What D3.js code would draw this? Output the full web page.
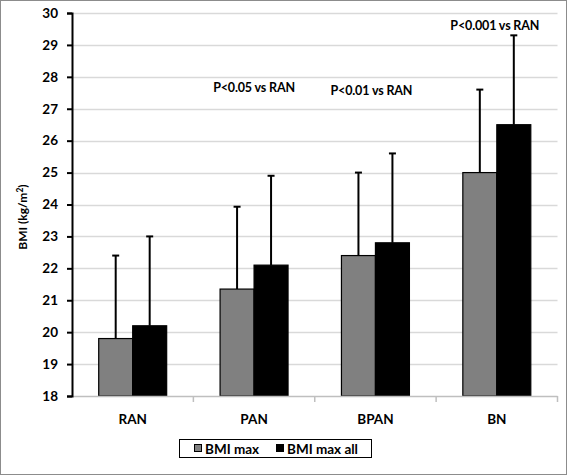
<!DOCTYPE html>
<html><head><meta charset="utf-8">
<script src="https://cdn.jsdelivr.net/npm/d3@7"></script>
<style>
html,body{margin:0;padding:0;background:#fff;}
svg{display:block;font-family:Lato,"Open Sans",sans-serif;}
</style></head>
<body>
<svg id="chart" width="567" height="475"></svg>
<script>
const categories = ["RAN","PAN","BPAN","BN"];
const seriesNames = ["BMI max","BMI max all"];
const bmiMax = [19.8, 21.35, 22.4, 25.0];
const bmiMaxAll = [20.2, 22.1, 22.8, 26.5];
const errMax = [22.4, 23.93, 25.0, 27.6];
const errMaxAll = [23.0, 24.9, 25.6, 29.3];
const annotationCats = ["PAN","BPAN","BN"];
const annotationTexts = ["P<0.05 vs RAN","P<0.01 vs RAN","P<0.001 vs RAN"];
const annotationLevels = [27.52, 27.43, 29.47];
const yTicks = d3.range(18, 31, 1);
const colors = ["#808080", "#000000"];

const svg = d3.select("#chart");
const W = 567, H = 475;
const m = {left:72, right:10, top:13, bottom:79};
const x0 = d3.scaleBand().domain(categories).range([m.left, W - m.right + 0.5]).paddingInner(0).paddingOuter(0);
const y = d3.scaleLinear().domain([18, 30]).range([396, 13]);
const groupW = x0.bandwidth() * 0.56;
const x1 = d3.scaleBand().domain(seriesNames).range([0, groupW]);

// outer border
svg.append("rect").attr("x",0.5).attr("y",0.5).attr("width",W-1).attr("height",H-1)
  .attr("fill","#fff").attr("stroke","#8c8c8c").attr("stroke-width",1);

// gridlines
svg.append("g").selectAll("line").data(yTicks.filter(d=>d>18)).join("line")
  .attr("x1", m.left).attr("x2", x0.range()[1])
  .attr("y1", d=>Math.round(y(d))+0.5).attr("y2", d=>Math.round(y(d))+0.5)
  .attr("stroke","#d9d9d9").attr("stroke-width",1.5);

// bars
const data = categories.map((c,i)=>({cat:c, vals:[
  {s:seriesNames[0], v:bmiMax[i], e:errMax[i]},
  {s:seriesNames[1], v:bmiMaxAll[i], e:errMaxAll[i]}]}));

const groups = svg.append("g").selectAll("g").data(data).join("g")
  .attr("transform", d=>`translate(${x0(d.cat) + (x0.bandwidth()-groupW)/2},0)`);

// error bars
groups.selectAll("line.err").data(d=>d.vals).join("line").attr("class","err")
  .attr("x1", d=>x1(d.s)+x1.bandwidth()/2).attr("x2", d=>x1(d.s)+x1.bandwidth()/2)
  .attr("y1", d=>y(d.v)).attr("y2", d=>y(d.e))
  .attr("stroke","#000").attr("stroke-width",2);
groups.selectAll("line.cap").data(d=>d.vals).join("line").attr("class","cap")
  .attr("x1", d=>x1(d.s)+x1.bandwidth()/2-3.5).attr("x2", d=>x1(d.s)+x1.bandwidth()/2+3.5)
  .attr("y1", d=>y(d.e)).attr("y2", d=>y(d.e))
  .attr("stroke","#000").attr("stroke-width",2);

groups.selectAll("rect").data(d=>d.vals).join("rect")
  .attr("x", d=>x1(d.s)).attr("width", x1.bandwidth())
  .attr("y", d=>y(d.v)).attr("height", d=>y(18)-y(d.v))
  .attr("fill", (d,i)=>colors[i]).attr("stroke","#000").attr("stroke-width",1.2);

// x axis
const xAxis = svg.append("g").attr("transform",`translate(0,${y(18)})`);
xAxis.append("line").attr("x1",m.left).attr("x2",x0.range()[1]).attr("y1",0.5).attr("y2",0.5)
  .attr("stroke","#bfbfbf").attr("stroke-width",1.5);
xAxis.selectAll("line.t").data(categories).join("line").attr("class","t")
  .attr("x1",d=>x0(d)+x0.bandwidth()).attr("x2",d=>x0(d)+x0.bandwidth())
  .attr("y1",0).attr("y2",6).attr("stroke","#bfbfbf").attr("stroke-width",1.5);
xAxis.selectAll("text").data(categories).join("text")
  .attr("x",d=>x0(d)+x0.bandwidth()/2).attr("y",28)
  .attr("text-anchor","middle").attr("font-size",13.5).attr("font-weight",700).text(d=>d);

// y axis
const yAxis = svg.append("g").attr("transform",`translate(${m.left},0)`)
  .call(d3.axisLeft(y).tickValues(yTicks).tickSize(5).tickPadding(9).tickFormat(d3.format("d")));
yAxis.select(".domain").attr("stroke","#000").attr("stroke-width",2);
yAxis.selectAll(".tick line").attr("stroke","#000").attr("stroke-width",2);
yAxis.selectAll(".tick text").attr("font-size",13.5).attr("font-weight",700)
  .attr("font-family","Lato,'Open Sans',sans-serif").attr("fill","#000");

// y label
const yl = svg.append("text").attr("transform","translate(27,217) rotate(-90)")
  .attr("text-anchor","middle").attr("font-size",12).attr("font-weight",700);
yl.append("tspan").text("BMI (kg/m");
yl.append("tspan").attr("font-size",8.5).attr("dy",-4).text("2");
yl.append("tspan").attr("dy",4).text(")");

// annotations
svg.append("g").selectAll("text").data(annotationTexts).join("text")
  .attr("x", (d,i)=>x0(annotationCats[i])+x0.bandwidth()/2 - (i===1?4:(i===2?2:0)))
  .attr("y", (d,i)=>y(annotationLevels[i]))
  .attr("text-anchor","middle").attr("font-size",12.5).attr("font-weight",700)
  .attr("letter-spacing",-0.15).text(d=>d);

// legend
const lg = svg.append("g");
lg.append("rect").attr("x",179.5).attr("y",439.5).attr("width",192).attr("height",18)
  .attr("fill","#fff").attr("stroke","#000").attr("stroke-width",1);
const items = [{n:seriesNames[0], x:194, c:colors[0]},{n:seriesNames[1], x:276, c:colors[1]}];
items.forEach(it=>{
  lg.append("rect").attr("x",it.x+0.5).attr("y",444.5).attr("width",7).attr("height",7)
    .attr("fill",it.c).attr("stroke","#000").attr("stroke-width",1);
  lg.append("text").attr("x",it.x+11).attr("y",453.5).attr("font-size",13.5).attr("font-weight",700).text(it.n);
});
</script>
</body></html>
